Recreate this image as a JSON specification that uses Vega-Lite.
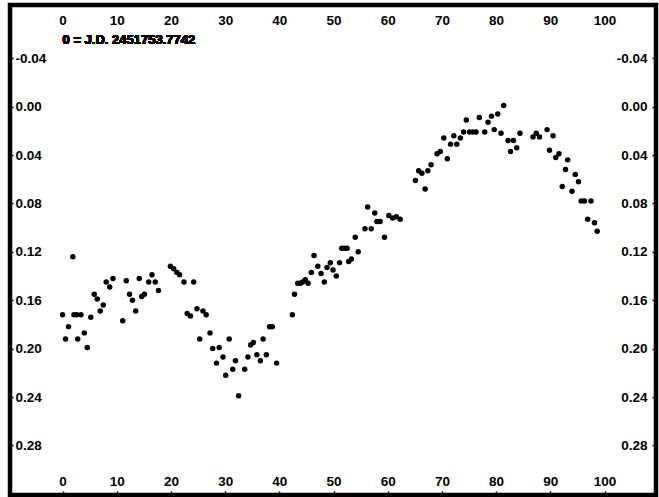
{
  "$schema": "https://vega.github.io/schema/vega-lite/v6.json",
  "autosize": "none",
  "padding": {"left": 10, "top": 5, "right": 3, "bottom": 2},
  "width": 646,
  "height": 490,
  "background": "white",
  "config": {
    "view": {"stroke": "black", "strokeWidth": 4.5},
    "font": "Liberation Sans",
    "axis": {
      "grid": false,
      "domain": false,
      "title": null,
      "labelFont": "Liberation Sans",
      "labelFontWeight": "bold",
      "labelFontSize": 13.5,
      "labelColor": "black",
      "tickColor": "black",
      "tickWidth": 1.5,
      "labelOverlap": false,
      "labelFlush": false
    }
  },
  "data": {
    "values": [
      {"t": 0.0, "mag": 0.172}, {"t": 0.55, "mag": 0.192}, {"t": 1.1, "mag": 0.182}, {"t": 1.9, "mag": 0.124},
      {"t": 2.1, "mag": 0.172}, {"t": 2.6, "mag": 0.172}, {"t": 2.8, "mag": 0.192}, {"t": 3.4, "mag": 0.172},
      {"t": 4.0, "mag": 0.187}, {"t": 4.55, "mag": 0.199}, {"t": 5.2, "mag": 0.174}, {"t": 5.85, "mag": 0.155},
      {"t": 6.4, "mag": 0.159}, {"t": 6.95, "mag": 0.169}, {"t": 7.5, "mag": 0.164}, {"t": 8.05, "mag": 0.145},
      {"t": 8.7, "mag": 0.149}, {"t": 9.3, "mag": 0.142}, {"t": 11.1, "mag": 0.177}, {"t": 11.75, "mag": 0.144},
      {"t": 12.35, "mag": 0.155}, {"t": 12.9, "mag": 0.16}, {"t": 13.5, "mag": 0.169}, {"t": 14.15, "mag": 0.142},
      {"t": 14.6, "mag": 0.157}, {"t": 15.1, "mag": 0.155}, {"t": 15.9, "mag": 0.145}, {"t": 16.5, "mag": 0.139},
      {"t": 17.1, "mag": 0.145}, {"t": 17.7, "mag": 0.152}, {"t": 19.9, "mag": 0.132}, {"t": 20.5, "mag": 0.134},
      {"t": 21.1, "mag": 0.137}, {"t": 21.6, "mag": 0.139}, {"t": 22.4, "mag": 0.145}, {"t": 24.2, "mag": 0.145},
      {"t": 23.0, "mag": 0.171}, {"t": 23.6, "mag": 0.173}, {"t": 24.8, "mag": 0.167}, {"t": 25.9, "mag": 0.169},
      {"t": 26.5, "mag": 0.172}, {"t": 25.3, "mag": 0.192}, {"t": 27.2, "mag": 0.187}, {"t": 27.7, "mag": 0.2},
      {"t": 28.9, "mag": 0.199}, {"t": 29.6, "mag": 0.207}, {"t": 28.4, "mag": 0.212}, {"t": 30.75, "mag": 0.192},
      {"t": 31.9, "mag": 0.21}, {"t": 31.4, "mag": 0.217}, {"t": 30.1, "mag": 0.222}, {"t": 32.5, "mag": 0.239},
      {"t": 33.6, "mag": 0.217}, {"t": 34.2, "mag": 0.207}, {"t": 34.7, "mag": 0.197}, {"t": 35.2, "mag": 0.195},
      {"t": 35.85, "mag": 0.205}, {"t": 36.5, "mag": 0.21}, {"t": 37.0, "mag": 0.192}, {"t": 37.6, "mag": 0.205},
      {"t": 38.2, "mag": 0.182}, {"t": 38.7, "mag": 0.182}, {"t": 39.5, "mag": 0.212}, {"t": 42.4, "mag": 0.172},
      {"t": 42.8, "mag": 0.155}, {"t": 43.4, "mag": 0.146}, {"t": 43.9, "mag": 0.146}, {"t": 44.3, "mag": 0.145},
      {"t": 44.8, "mag": 0.143}, {"t": 45.3, "mag": 0.146}, {"t": 45.9, "mag": 0.137}, {"t": 46.4, "mag": 0.123},
      {"t": 47.1, "mag": 0.132}, {"t": 47.7, "mag": 0.138}, {"t": 48.3, "mag": 0.145}, {"t": 48.8, "mag": 0.133},
      {"t": 49.4, "mag": 0.129}, {"t": 49.9, "mag": 0.135}, {"t": 50.5, "mag": 0.14}, {"t": 51.1, "mag": 0.129},
      {"t": 51.5, "mag": 0.117}, {"t": 52.0, "mag": 0.117}, {"t": 52.5, "mag": 0.117}, {"t": 52.8, "mag": 0.128},
      {"t": 53.3, "mag": 0.126}, {"t": 54.0, "mag": 0.108}, {"t": 54.55, "mag": 0.12}, {"t": 55.8, "mag": 0.101},
      {"t": 56.3, "mag": 0.083}, {"t": 56.95, "mag": 0.101}, {"t": 57.6, "mag": 0.088}, {"t": 58.0, "mag": 0.095},
      {"t": 58.6, "mag": 0.095}, {"t": 59.4, "mag": 0.108}, {"t": 60.2, "mag": 0.09}, {"t": 60.9, "mag": 0.092},
      {"t": 61.6, "mag": 0.091}, {"t": 62.3, "mag": 0.093}, {"t": 65.1, "mag": 0.061}, {"t": 65.7, "mag": 0.053},
      {"t": 66.3, "mag": 0.055}, {"t": 66.9, "mag": 0.068}, {"t": 67.4, "mag": 0.053}, {"t": 68.0, "mag": 0.048},
      {"t": 69.1, "mag": 0.039}, {"t": 69.7, "mag": 0.037}, {"t": 70.35, "mag": 0.026}, {"t": 71.0, "mag": 0.043},
      {"t": 71.6, "mag": 0.031}, {"t": 72.2, "mag": 0.024}, {"t": 72.75, "mag": 0.031}, {"t": 73.4, "mag": 0.026},
      {"t": 74.0, "mag": 0.021}, {"t": 74.5, "mag": 0.011}, {"t": 75.1, "mag": 0.021}, {"t": 75.7, "mag": 0.021},
      {"t": 76.3, "mag": 0.021}, {"t": 76.9, "mag": 0.009}, {"t": 77.9, "mag": 0.021}, {"t": 78.5, "mag": 0.013},
      {"t": 79.15, "mag": 0.008}, {"t": 79.65, "mag": 0.019}, {"t": 80.3, "mag": 0.006}, {"t": 80.9, "mag": 0.022},
      {"t": 81.4, "mag": -0.001}, {"t": 82.2, "mag": 0.028}, {"t": 82.65, "mag": 0.037}, {"t": 83.2, "mag": 0.028},
      {"t": 83.8, "mag": 0.034}, {"t": 84.4, "mag": 0.022}, {"t": 86.8, "mag": 0.025}, {"t": 87.4, "mag": 0.022},
      {"t": 88.0, "mag": 0.025}, {"t": 89.4, "mag": 0.019}, {"t": 89.85, "mag": 0.036}, {"t": 90.5, "mag": 0.024},
      {"t": 91.0, "mag": 0.042}, {"t": 91.6, "mag": 0.039}, {"t": 92.2, "mag": 0.066}, {"t": 92.8, "mag": 0.052},
      {"t": 93.2, "mag": 0.044}, {"t": 94.0, "mag": 0.07}, {"t": 94.6, "mag": 0.056}, {"t": 95.2, "mag": 0.062},
      {"t": 95.7, "mag": 0.078}, {"t": 96.3, "mag": 0.078}, {"t": 96.9, "mag": 0.093}, {"t": 97.5, "mag": 0.078},
      {"t": 98.15, "mag": 0.096}, {"t": 98.65, "mag": 0.103}
    ]
  },
  "layer": [
    {
      "mark": {"type": "point", "filled": true, "shape": "circle", "color": "black", "opacity": 1, "size": 30},
      "encoding": {
        "x": {
          "field": "t", "type": "quantitative",
          "scale": {"domain": [-9.7, 109.5], "nice": false, "zero": false},
          "axis": {
            "orient": "bottom",
            "values": [0, 10, 20, 30, 40, 50, 60, 70, 80, 90, 100],
            "format": "d",
            "tickSize": -4,
            "labelPadding": -9.5,
            "labelBaseline": "middle"
          }
        },
        "y": {
          "field": "mag", "type": "quantitative",
          "scale": {"domain": [-0.084, 0.321], "reverse": true, "nice": false, "zero": false},
          "axis": {
            "orient": "left",
            "values": [-0.04, 0, 0.04, 0.08, 0.12, 0.16, 0.2, 0.24, 0.28],
            "format": ".2f",
            "labelExpr": "replace(datum.label, '\u2212', '-')",
            "tickSize": -3,
            "labelPadding": -2,
            "labelAlign": "left",
            "labelBaseline": "middle"
          }
        }
      }
    },
    {
      "mark": {"type": "text", "align": "left", "baseline": "middle", "font": "Liberation Sans", "fontWeight": "bold", "fontSize": 13, "color": "black"},
      "encoding": {
        "x": {
          "datum": 0, "type": "quantitative",
          "axis": {
            "orient": "top",
            "values": [0, 10, 20, 30, 40, 50, 60, 70, 80, 90, 100],
            "format": "d",
            "ticks": false,
            "tickSize": 0,
            "labelPadding": -15,
            "labelBaseline": "middle"
          }
        },
        "y": {
          "datum": -0.055, "type": "quantitative",
          "axis": {
            "orient": "right",
            "values": [-0.04, 0, 0.04, 0.08, 0.12, 0.16, 0.2, 0.24, 0.28],
            "format": ".2f",
            "labelExpr": "replace(datum.label, '\u2212', '-')",
            "tickSize": -4,
            "labelPadding": -5,
            "labelAlign": "right",
            "labelBaseline": "middle"
          }
        },
        "text": {"value": "0 = J.D. 2451753.7742"}
      }
    }
  ],
  "resolve": {"axis": {"x": "independent", "y": "independent"}}
}
